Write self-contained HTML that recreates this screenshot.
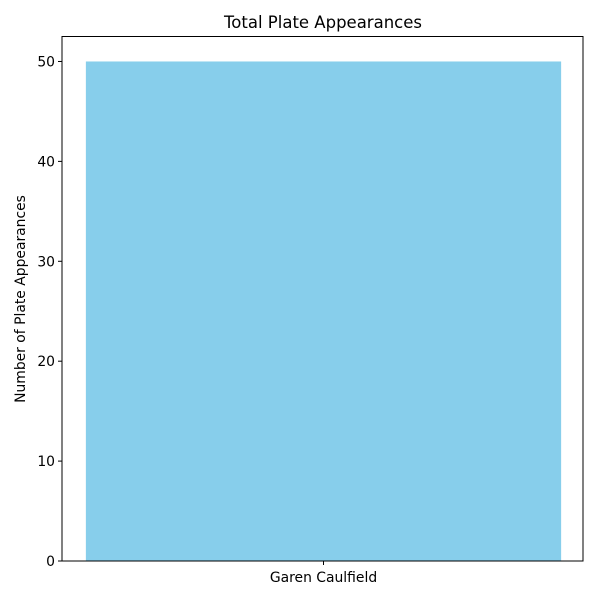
<!DOCTYPE html>
<html><head><meta charset="utf-8"><style>
body{margin:0;background:#fff;font-family:"DejaVu Sans","Liberation Sans",sans-serif}
</style></head><body>
<svg width="600" height="600" viewBox="0 0 600 600" xmlns="http://www.w3.org/2000/svg" font-family="DejaVu Sans, Liberation Sans, sans-serif">
<rect width="600" height="600" fill="#fff"/>
<text x="323" y="28" text-anchor="middle" font-size="16.5" fill="#000">Total Plate Appearances</text>
<text transform="translate(25,299) rotate(-90)" text-anchor="middle" font-size="13.9" fill="#000">Number of Plate Appearances</text>
<g id="bars"></g>
<g id="yticks"></g>
<g id="xticks"></g>
<rect x="62" y="36.5" width="521" height="524.5" fill="none" stroke="#000" stroke-width="1"/>
</svg>
<script>
const categories=["Garen Caulfield"];
const values=[50];
const yTicks=[0,10,20,30,40,50];
const NS="http://www.w3.org/2000/svg";
const L=62,R=583,T=36.5,B=561,yMax=52.5;
const xMin=-0.4385,xMax=0.4385;
function ys(v){return B-(v/yMax)*(B-T);}
function xs(v){return L+(v-xMin)/(xMax-xMin)*(R-L)+1;}
const bars=document.getElementById('bars');
categories.forEach((c,i)=>{
  const r=document.createElementNS(NS,'rect');
  r.setAttribute('x',xs(i-0.4));r.setAttribute('width',xs(i+0.4)-xs(i-0.4));
  r.setAttribute('y',ys(values[i]));r.setAttribute('height',B-ys(values[i]));
  r.setAttribute('fill','#87ceeb');
  
  
  bars.appendChild(r);
  const g=document.getElementById('xticks');
  const l=document.createElementNS(NS,'line');
  l.setAttribute('x1',xs(i));l.setAttribute('x2',xs(i));l.setAttribute('y1',B);l.setAttribute('y2',B+4);l.setAttribute('stroke','#000');
  
  
  g.appendChild(l);
  const t=document.createElementNS(NS,'text');
  t.setAttribute('x',xs(i));t.setAttribute('y',B+21);t.setAttribute('text-anchor','middle');t.setAttribute('font-size','13.9');
  t.textContent=c;
  
  
  g.appendChild(t);
});
const yg=document.getElementById('yticks');
yTicks.forEach(v=>{
  const l=document.createElementNS(NS,'line');
  l.setAttribute('x1',L-4);l.setAttribute('x2',L);l.setAttribute('y1',ys(v));l.setAttribute('y2',ys(v));l.setAttribute('stroke','#000');
  
  
  yg.appendChild(l);
  const t=document.createElementNS(NS,'text');
  t.setAttribute('x',L-7);t.setAttribute('y',ys(v)+5);t.setAttribute('text-anchor','end');t.setAttribute('font-size','13.9');
  t.textContent=v;
  
  
  yg.appendChild(t);
});
</script>
</body></html>
